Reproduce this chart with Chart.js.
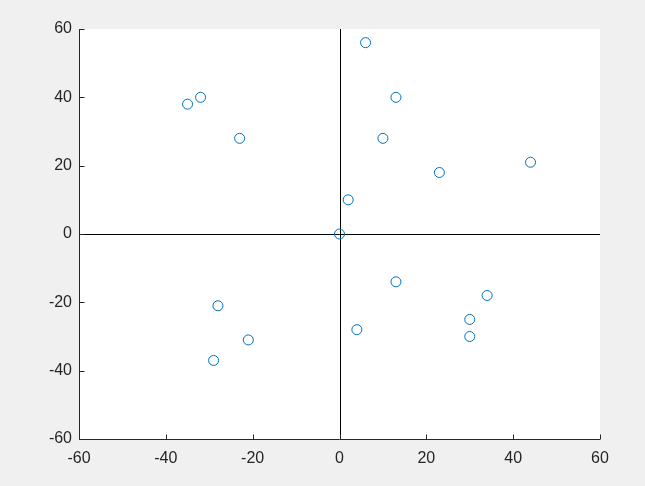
<!DOCTYPE html>
<html>
<head>
<meta charset="utf-8">
<script src="https://cdn.jsdelivr.net/npm/chart.js@4"></script>
<style>
  html, body { margin: 0; padding: 0; background: #f0f0f0; }
  #wrap { width: 645px; height: 486px; }
</style>
</head>
<body>
<div id="wrap"><canvas id="c" width="645" height="486"></canvas></div>
<script>
// scatter points
const xValues = [6, 13, 10, 23, 44, 2, 0, -35, -32, -23, -28, -21, -29, 4, 13, 34, 30, 30];
const yValues = [56, 40, 28, 18, 21, 10, 0, 38, 40, 28, -21, -31, -37, -28, -14, -18, -25, -30];
const axisTicks = [-60, -40, -20, 0, 20, 40, 60];

const points = xValues.map((x, i) => ({ x: x, y: yValues[i] }));

// white plot box, zero lines, left/bottom axes with inward ticks
const axesPlugin = {
    id: 'matlabAxes',
    beforeDatasetsDraw(chart) {
        const ctx = chart.ctx;
        const a = chart.chartArea;
        const xs = chart.scales.x, ys = chart.scales.y;
        ctx.save();
        ctx.fillStyle = '#ffffff';
        ctx.fillRect(a.left, a.top, a.right - a.left, a.bottom - a.top);

        // zero lines
        ctx.strokeStyle = '#000000';
        ctx.lineWidth = 1;
        const x0 = Math.round(xs.getPixelForValue(0)) + 0.5;
        const y0 = Math.round(ys.getPixelForValue(0)) + 0.5;
        ctx.beginPath();
        ctx.moveTo(x0, a.top); ctx.lineTo(x0, a.bottom);
        ctx.moveTo(a.left, y0); ctx.lineTo(a.right, y0);
        ctx.stroke();

        // axis lines
        ctx.strokeStyle = '#262626';
        const L = Math.round(a.left) + 0.5, B = Math.round(a.bottom) + 0.5;
        ctx.beginPath();
        ctx.moveTo(L, a.top); ctx.lineTo(L, B); ctx.lineTo(a.right, B);
        // inward ticks
        axisTicks.forEach(v => {
            const px = Math.round(xs.getPixelForValue(v)) + 0.5;
            ctx.moveTo(px, B); ctx.lineTo(px, B - 5);
            const py = Math.round(ys.getPixelForValue(v)) + 0.5;
            ctx.moveTo(L, py); ctx.lineTo(L + 5, py);
        });
        ctx.stroke();
        ctx.restore();
    }
};

const tickFont = { family: 'Liberation Sans, Arial, sans-serif', size: 16 };

new Chart(document.getElementById('c'), {
    type: 'scatter',
    data: {
        datasets: [{
            data: points,
            pointStyle: 'circle',
            pointRadius: 5,
            pointBorderWidth: 1,
            pointBorderColor: '#0072BD',
            pointBackgroundColor: 'rgba(0,0,0,0)'
        }]
    },
    options: {
        responsive: false,
        animation: false,
        layout: { padding: { top: 29, right: 45, left: 0, bottom: 0 } },
        plugins: { legend: { display: false }, tooltip: { enabled: false } },
        scales: {
            x: {
                type: 'linear', min: -60, max: 60,
                afterBuildTicks: s => { s.ticks = axisTicks.map(v => ({ value: v })); },
                afterFit: s => { s.height = 47; },
                grid: { display: false, drawTicks: false },
                border: { display: false },
                ticks: { color: '#262626', font: tickFont, padding: 10, maxRotation: 0 }
            },
            y: {
                type: 'linear', min: -60, max: 60,
                afterBuildTicks: s => { s.ticks = axisTicks.map(v => ({ value: v })); },
                afterFit: s => { s.width = 79; },
                grid: { display: false, drawTicks: false },
                border: { display: false },
                ticks: { color: '#262626', font: tickFont, padding: 7 }
            }
        }
    },
    plugins: [axesPlugin]
});
</script>
</body>
</html>
